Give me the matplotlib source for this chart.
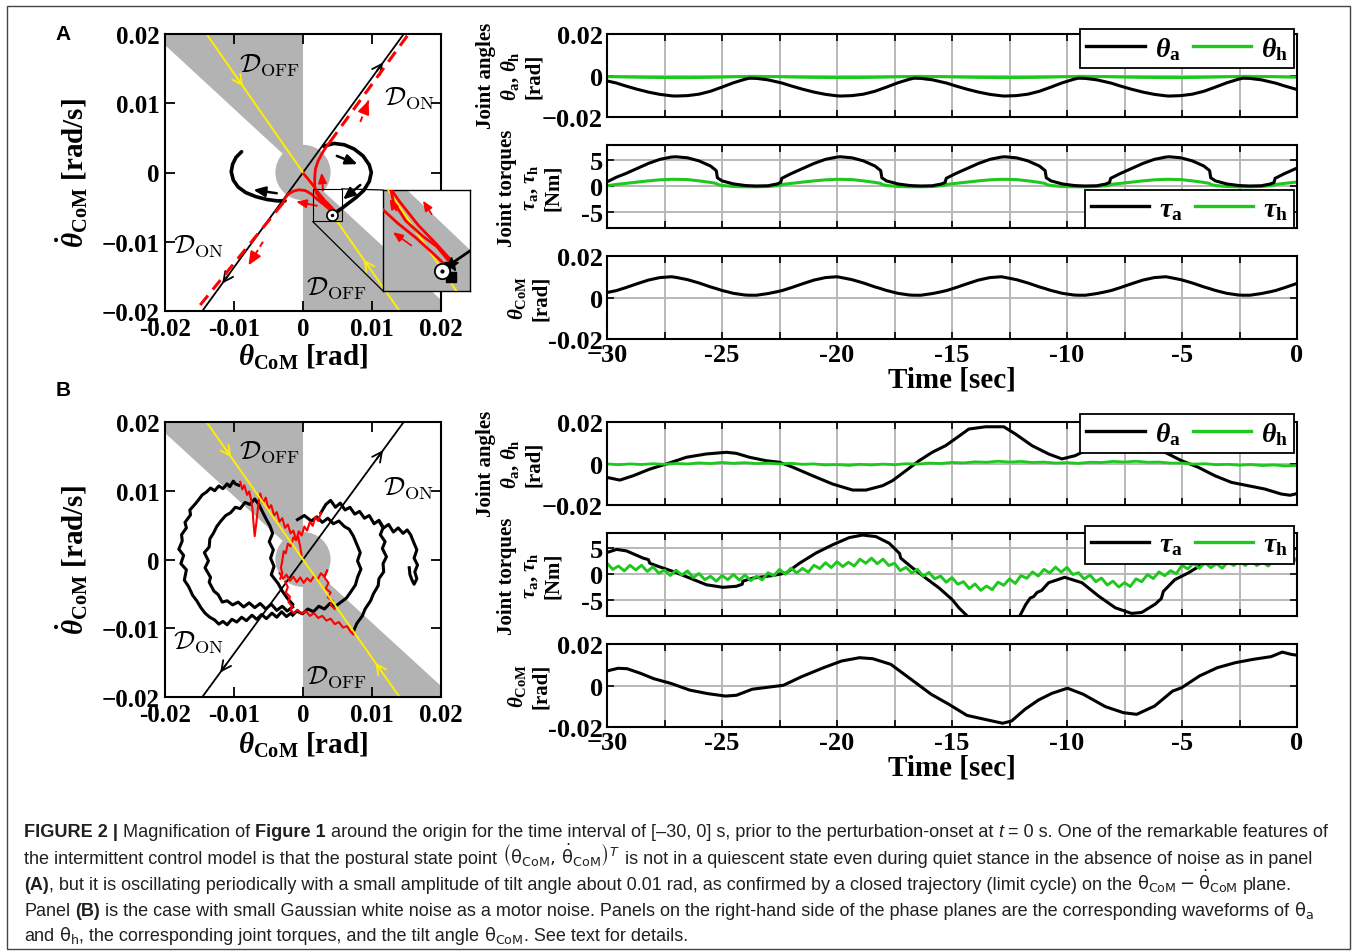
import numpy as np
import matplotlib
matplotlib.use('Agg')
import matplotlib.pyplot as plt
from matplotlib.patches import Polygon, Circle, Rectangle, ConnectionPatch
from matplotlib.lines import Line2D
from matplotlib.transforms import IdentityTransform

# ---------------------------------------------------------------- data
# phase-plane geometry
k_off = 0.92          # slope of D_OFF boundary line (theta_dot = -k_off*theta)
s_stable = 1.43       # stable manifold slope (negative)
s_unstable = 1.37     # unstable manifold slope
r_disk = 0.004        # radius of grey disk at origin

# Panel A: limit cycle arcs (rad, rad/s)
arcR_th = [0.0030, 0.0045, 0.0060, 0.0074, 0.0087, 0.0096, 0.0099, 0.0096, 0.0088, 0.0077, 0.0065, 0.0056, 0.00466]
arcR_thd = [0.0038, 0.0042, 0.0040, 0.0034, 0.0024, 0.0011, 0.0000, -0.0013, -0.0026, -0.0036, -0.0045, -0.0052, -0.00582]
arcL_th = [-0.0089, -0.0097, -0.0102, -0.0104, -0.0101, -0.0094, -0.0083, -0.0068, -0.0052, -0.0037, -0.0026]
arcL_thd = [0.0030, 0.0022, 0.0012, 0.0001, -0.0011, -0.0021, -0.0029, -0.0035, -0.0039, -0.0041, -0.0041]
# red trajectories leaving the start point
red1_th = [0.00460, 0.0040, 0.0033, 0.0025, 0.0019, 0.0017, 0.0017, 0.0018, 0.0022, 0.0029, 0.0035, 0.0039]
red1_thd = [-0.00570, -0.0050, -0.0045, -0.0038, -0.0029, -0.0020, -0.0008, 0.0005, 0.0017, 0.0030, 0.0039, 0.0044]
red2_th = [0.00440, 0.0038, 0.0030, 0.0021, 0.0012, 0.0003, -0.0006, -0.0014, -0.0021, -0.0026, -0.0029]
red2_thd = [-0.00585, -0.0053, -0.0046, -0.0039, -0.0031, -0.0026, -0.0025, -0.0027, -0.0031, -0.0037, -0.0044]
red3_th = [0.00465, 0.0040, 0.0031, 0.0022, 0.0014, 0.0007, 0.0001]
red3_thd = [-0.00560, -0.0049, -0.0040, -0.0029, -0.0018, -0.0009, -0.0002]
redD1_th = [0.0039, 0.0153]
redD1_thd = [0.0044, 0.0200]
redD2_th = [-0.0029, -0.0156]
redD2_thd = [-0.0044, -0.0200]
start_pt = (0.00423, -0.00612)
star_pt = (0.00466, -0.00583)
square_pt = (0.00466, -0.00640)
inset_xlim = (0.0014, 0.0056)
inset_ylim = (-0.00707, -0.00236)
blk_arrows_A = [((0.0049, 0.0024), (0.0079, 0.0012)), ((0.0083, -0.0018), (0.0058, -0.0039)),
                ((-0.0038, -0.0030), (-0.0072, -0.0025))]
red_arrows_A = [((0.0029, -0.0026), (0.0027, 0.0000)), ((0.0020, -0.0048), (-0.0010, -0.0042))]
red_dash_arrows_A = [((0.0083, 0.0073), (0.0095, 0.0104)), ((-0.0058, -0.0100), (-0.0079, -0.0134))]
inset_red_arrows = [((0.00375, -0.00349), (0.00333, -0.00286)), ((0.00277, -0.00495), (0.00188, -0.00433)),
                    ((0.00205, -0.00332), (0.00172, -0.00278))]
# chevrons on manifolds: theta position of arrow, direction
chev_unst_A = [(0.0107, 1), (-0.0108, -1)]
chev_stab_A = [(-0.0096, 1), (0.0097, -1)]
chev_unst_B = [(0.0107, 1), (-0.0111, -1)]
chev_stab_B = [(-0.0113, 1), (0.0114, -1)]
dlabels_A = [(-0.0048, 0.0157, 'OFF'), (0.0155, 0.0109, 'ON'), (-0.0152, -0.0105, 'ON'), (0.0049, -0.0165, 'OFF')]
dlabels_B = [(-0.0048, 0.0158, 'OFF'), (0.0153, 0.0105, 'ON'), (-0.0152, -0.0118, 'ON'), (0.0049, -0.0169, 'OFF')]

# Panel B phase plane (mrad, mrad/s) - noisy trajectories read by hand
bB1_th = [-1.6, -2.4, -3.1, -3.8, -4.5, -5.3, -6.0, -6.7, -7.4, -8.2, -8.9, -9.6, -10.3, -11.0, -11.6, -12.2, -12.8, -13.5,
          -14.2, -14.8, -15.4, -16.0, -16.6, -17.2, -16.9, -17.7, -17.3, -18.0, -17.5, -17.6, -16.9, -17.1, -16.3, -16.4,
          -15.6, -15.2, -14.6, -14.0, -13.4, -12.8, -12.2, -11.6, -11.0, -10.6, -10.1, -9.8, -9.3]
bB1_thd = [-7.7, -8.3, -7.6, -8.4, -7.8, -8.6, -8.0, -8.7, -8.1, -8.9, -8.4, -9.1, -8.7, -9.5, -9.0, -9.4, -8.8, -8.4,
           -7.8, -7.0, -6.0, -5.2, -3.9, -3.0, -1.5, -0.6, 0.6, 1.5, 2.7, 3.6, 4.6, 5.4, 6.5, 7.2, 8.1, 8.6, 9.4, 9.8,
           10.4, 10.0, 10.7, 10.3, 11.0, 10.6, 11.4, 11.0, 10.8]
bB2_th = [-1.5, -2.3, -3.0, -3.8, -4.6, -5.4, -6.2, -7.0, -7.8, -8.6, -9.4, -10.2, -11.0, -11.7, -12.3, -12.9, -13.6,
          -13.4, -14.2, -13.7, -14.3, -13.6, -13.5, -13.0, -12.5, -11.9, -11.2, -10.5, -9.8, -9.1, -8.4, -7.7, -7.0,
          -6.4, -5.9, -5.4, -4.8, -4.4, -4.9, -4.3, -4.7, -4.2, -4.6, -3.6, -3.0, -2.3, -1.5]
bB2_thd = [-6.9, -7.5, -6.8, -7.4, -6.5, -7.2, -6.4, -7.0, -6.3, -6.9, -6.2, -6.6, -6.0, -6.2, -5.1, -4.6, -3.3, -2.6,
           -1.2, -0.2, 1.0, 1.8, 3.0, 3.8, 4.8, 5.6, 6.4, 6.8, 7.6, 7.4, 8.3, 8.0, 8.8, 8.0, 7.0, 6.0, 4.9, 3.8, 2.6,
           1.4, 0.2, -1.0, -2.2, -3.5, -4.6, -5.6, -6.5]
bB3_th = [2.6, 3.3, 4.0, 4.7, 5.4, 6.1, 6.8, 7.5, 8.2, 8.9, 9.6, 10.3, 11.0, 11.7, 12.4, 13.1, 13.8, 14.5, 15.1, 15.6,
          16.0, 16.5, 16.1, 16.6, 16.2, 16.5, 16.1, 15.8, 15.5, 15.4]
bB3_thd = [6.8, 8.0, 8.6, 7.6, 8.2, 7.2, 7.6, 6.6, 7.0, 6.0, 6.4, 5.2, 5.7, 4.6, 5.1, 4.0, 4.6, 3.8, 4.3, 3.6, 2.6, 1.4,
           0.2, -0.8, -1.8, -2.8, -3.6, -3.0, -2.2, -1.2]
bB4_th = [11.0, 11.6, 11.2, 11.9, 11.5, 12.1, 11.6, 11.7, 11.0, 10.9, 10.2, 9.8, 9.0, 8.6, 7.8, 7.3]
bB4_thd = [5.6, 4.6, 3.6, 2.6, 1.6, 0.4, -0.6, -1.8, -2.8, -3.8, -5.0, -6.0, -7.2, -8.2, -9.3, -10.5]
bB5_th = [-0.8, 0.2, 1.2, 2.0, 2.8, 3.6, 4.4, 5.2, 6.0, 6.7, 7.3, 7.8, 8.3, 7.9, 8.4, 7.9, 7.6, 7.0, 6.3, 5.5, 4.7,
          3.9, 3.1, 2.3, 1.5, 0.7, -0.1, -0.9, -1.5]
bB5_thd = [5.8, 6.4, 5.6, 6.2, 5.4, 6.0, 5.2, 5.6, 4.8, 4.4, 3.4, 2.2, 1.0, -0.2, -1.4, -2.6, -3.7, -4.6, -5.6, -6.2,
           -6.8, -6.4, -7.2, -6.8, -7.6, -7.2, -7.9, -7.5, -8.1]
rB1_th = [-9.1, -8.8, -8.5, -8.1, -7.8, -7.5, -7.3, -7.2, -7.0, -6.8, -6.5, -6.2, -5.8, -5.4, -5.0, -4.6, -4.2, -3.8,
          -3.4, -3.0, -2.6, -2.2, -1.8, -1.4, -1.0, -0.7, -0.4, -0.2]
rB1_thd = [11.3, 10.2, 10.8, 9.4, 9.9, 8.6, 7.2, 5.6, 3.4, 5.0, 7.8, 9.6, 8.2, 9.0, 7.4, 7.9, 6.4, 6.9, 5.5, 6.0, 4.6,
           5.1, 3.8, 4.2, 2.9, 3.3, 1.8, 0.6]
rB2_th = [2.6, 2.2, 1.8, 1.4, 1.0, 0.6, 0.2, -0.2, -0.6, -1.0, -1.4, -1.8, -2.2, -2.5, -2.8, -3.0, -3.2, -3.0, -3.3]
rB2_thd = [6.8, 5.6, 6.2, 4.9, 5.5, 4.2, 4.8, 3.5, 4.1, 2.8, 3.2, 1.9, 2.3, 0.9, 1.2, -0.2, -1.2, -2.0, -2.8]
rB3_th = [-3.4, -2.9, -2.4, -1.9, -1.4, -0.9, -0.4, 0.1, 0.6, 1.1, 1.6, 2.1, 2.6, 3.1, 3.5]
rB3_thd = [-2.0, -2.8, -2.2, -3.1, -2.5, -3.3, -2.6, -3.4, -2.7, -3.2, -2.4, -2.9, -2.0, -2.5, -1.6]
rB4_th = [-2.6, -2.2, -2.5, -1.9, -2.1, -1.6, -1.8, -1.3, -0.8, -0.2, 0.4, 1.0, 1.6, 2.2, 2.8, 3.4, 4.0, 4.6, 5.2, 5.8,
          6.4, 6.9, 7.3]
rB4_thd = [-3.2, -4.0, -4.8, -5.4, -6.2, -6.8, -7.4, -7.8, -7.3, -7.9, -7.5, -8.2, -7.8, -8.5, -8.2, -8.9, -8.6, -9.4,
           -9.1, -9.9, -9.7, -10.5, -10.9]
rB5_th = [3.5, 3.1, 3.7, 3.3, 4.0, 3.6, 4.3, 4.0, 4.6]
rB5_thd = [-1.6, -2.6, -3.4, -4.2, -4.8, -5.5, -6.0, -6.6, -7.2]

# Panel A time series (s; mrad, Nm)
tA = [-30.0, -29.6, -29.2, -28.7, -28.2, -27.7, -27.2,
      -27.0, -26.5, -26.0, -25.5, -25.25, -25.2, -25.0, -24.5, -24.0, -23.8, -23.5, -23.0, -22.6, -22.45, -22.4, -22.0, -21.5, -21.0, -20.5, -20.0,
      -19.85, -19.35, -18.85, -18.35, -18.1, -18.05, -17.85, -17.35, -16.85, -16.65, -16.35, -15.85, -15.45, -15.3, -15.25, -14.85, -14.35, -13.85, -13.35, -12.85,
      -12.7, -12.2, -11.7, -11.2, -10.95, -10.9, -10.7, -10.2, -9.7, -9.5, -9.2, -8.7, -8.3, -8.15, -8.1, -7.7, -7.2, -6.7, -6.2, -5.7,
      -5.55, -5.05, -4.55, -4.05, -3.8, -3.75, -3.55, -3.05, -2.55, -2.35, -2.05, -1.55, -1.15, -1.0, -0.95, -0.55, -0.05, 0.0]
theta_a_A = [-2.6, -3.6, -5.0, -6.6, -8.0, -9.1, -9.8,
             -9.9, -9.7, -9.0, -7.6, -6.6, -6.4, -5.6, -3.5, -1.8, -1.3, -1.4, -2.1, -3.1, -3.5, -3.6, -5.0, -6.6, -8.0, -9.1, -9.8,
             -9.9, -9.7, -9.0, -7.6, -6.6, -6.4, -5.6, -3.5, -1.8, -1.3, -1.4, -2.1, -3.1, -3.5, -3.6, -5.0, -6.6, -8.0, -9.1, -9.8,
             -9.9, -9.7, -9.0, -7.6, -6.6, -6.4, -5.6, -3.5, -1.8, -1.3, -1.4, -2.1, -3.1, -3.5, -3.6, -5.0, -6.6, -8.0, -9.1, -9.8,
             -9.9, -9.7, -9.0, -7.6, -6.6, -6.4, -5.6, -3.5, -1.8, -1.3, -1.4, -2.1, -3.1, -3.5, -3.6, -5.0, -6.6, -6.75]
theta_h_A = [-0.55, -0.6, -0.7, -0.8, -0.9, -0.95, -1.0,
             -1.0, -1.0, -0.95, -0.85, -0.8, -0.8, -0.75, -0.6, -0.5, -0.45, -0.45, -0.5, -0.55, -0.6, -0.6, -0.7, -0.8, -0.9, -0.95, -1.0,
             -1.0, -1.0, -0.95, -0.85, -0.8, -0.8, -0.75, -0.6, -0.5, -0.45, -0.45, -0.5, -0.55, -0.6, -0.6, -0.7, -0.8, -0.9, -0.95, -1.0,
             -1.0, -1.0, -0.95, -0.85, -0.8, -0.8, -0.75, -0.6, -0.5, -0.45, -0.45, -0.5, -0.55, -0.6, -0.6, -0.7, -0.8, -0.9, -0.95, -1.0,
             -1.0, -1.0, -0.95, -0.85, -0.8, -0.8, -0.75, -0.6, -0.5, -0.45, -0.45, -0.5, -0.55, -0.6, -0.6, -0.7, -0.8, -0.8]
tau_a_A = [0.8, 1.7, 2.4, 3.4, 4.4, 5.2, 5.65,
           5.7, 5.5, 4.9, 3.9, 3.0, 1.6, 1.0, 0.4, 0.1, 0.05, 0.0, 0.05, 0.4, 0.7, 1.5, 2.4, 3.4, 4.4, 5.2, 5.65,
           5.7, 5.5, 4.9, 3.9, 3.0, 1.6, 1.0, 0.4, 0.1, 0.05, 0.0, 0.05, 0.4, 0.7, 1.5, 2.4, 3.4, 4.4, 5.2, 5.65,
           5.7, 5.5, 4.9, 3.9, 3.0, 1.6, 1.0, 0.4, 0.1, 0.05, 0.0, 0.05, 0.4, 0.7, 1.5, 2.4, 3.4, 4.4, 5.2, 5.65,
           5.7, 5.5, 4.9, 3.9, 3.0, 1.6, 1.0, 0.4, 0.1, 0.05, 0.0, 0.05, 0.4, 0.7, 1.5, 2.4, 3.4, 3.5]
tau_h_A = [0.05, 0.3, 0.5, 0.75, 1.0, 1.2, 1.3,
           1.3, 1.25, 1.0, 0.7, 0.5, 0.3, 0.1, -0.1, -0.15, -0.15, -0.15, -0.1, 0.05, 0.15, 0.3, 0.5, 0.75, 1.0, 1.2, 1.3,
           1.3, 1.25, 1.0, 0.7, 0.5, 0.3, 0.1, -0.1, -0.15, -0.15, -0.15, -0.1, 0.05, 0.15, 0.3, 0.5, 0.75, 1.0, 1.2, 1.3,
           1.3, 1.25, 1.0, 0.7, 0.5, 0.3, 0.1, -0.1, -0.15, -0.15, -0.15, -0.1, 0.05, 0.15, 0.3, 0.5, 0.75, 1.0, 1.2, 1.3,
           1.3, 1.25, 1.0, 0.7, 0.5, 0.3, 0.1, -0.1, -0.15, -0.15, -0.15, -0.1, 0.05, 0.15, 0.3, 0.5, 0.75, 0.78]
theta_com_A = [2.4, 3.3, 4.7, 6.6, 8.4, 9.6, 10.0,
               9.7, 8.6, 7.0, 5.1, 4.3, 4.1, 3.4, 2.0, 1.2, 1.1, 1.1, 1.9, 2.8, 3.2, 3.3, 4.7, 6.6, 8.4, 9.6, 10.0,
               9.7, 8.6, 7.0, 5.1, 4.3, 4.1, 3.4, 2.0, 1.2, 1.1, 1.1, 1.9, 2.8, 3.2, 3.3, 4.7, 6.6, 8.4, 9.6, 10.0,
               9.7, 8.6, 7.0, 5.1, 4.3, 4.1, 3.4, 2.0, 1.2, 1.1, 1.1, 1.9, 2.8, 3.2, 3.3, 4.7, 6.6, 8.4, 9.6, 10.0,
               9.7, 8.6, 7.0, 5.1, 4.3, 4.1, 3.4, 2.0, 1.2, 1.1, 1.1, 1.9, 2.8, 3.2, 3.3, 4.7, 6.6, 6.8]

# Panel B time series
t_theta_a_B = [-30.0, -29.44, -28.86, -28.14, -27.41, -26.55, -25.68, -24.81, -24.38, -23.80, -23.08, -22.50, -21.92,
               -21.06, -20.19, -19.32, -18.74, -18.02, -17.59, -17.01, -16.43, -15.86, -15.28, -14.77, -14.27, -13.54,
               -12.75, -12.24, -11.52, -10.8, -10.22, -9.64, -9.06, -8.2, -7.4, -6.5, -5.74, -5.02, -4.30, -3.57,
               -2.85, -2.13, -1.40, -0.69, -0.3, 0.0]
theta_a_B = [-6.7, -8.0, -5.9, -2.7, -0.2, 3.0, 4.6, 5.4, 4.9, 3.0, 1.35, 0.6, -1.8, -5.9, -9.9, -12.8, -12.8, -10.7,
             -8.3, -3.5, 1.35, 5.4, 8.6, 12.6, 16.6, 17.7, 17.7, 14.2, 8.6, 4.6, 2.2, 3.8, 7.0, 10.0, 11.0, 9.0, 5.4,
             1.35, -1.8, -5.9, -9.1, -10.7, -12.3, -14.7, -15.3, -14.5]
theta_h_B = [-0.2, -0.6, -0.2, -0.5, -0.1, -0.4, 0.0, -0.2, 0.3, 0.0, 0.5, 0.1, 0.4, 0.0, 0.2, -0.2, 0.1, -0.4, -0.2,
             -0.7, -0.5, -0.9, -0.4, -0.7, -0.3, -0.6, -0.1, -0.3, 0.2, 0.0, 0.5, 0.3, 0.8, 0.6, 1.1, 0.7, 1.0, 0.5,
             0.7, 0.2, 0.4, 0.1, 0.6, 0.5, 1.0, 0.7, 1.1, 0.6, 0.7, 0.2, 0.2, -0.3, -0.1, -0.6, -0.4, -0.8, -0.5,
             -1.0, -0.7, -1.2, -0.9]
t_tau_a_B = [-30.0, -29.58, -29.15, -28.43, -28.2, -28.14, -27.78, -27.13, -26.40, -25.68, -24.96, -24.38, -24.12,
             -24.09, -23.66, -22.79, -22.21, -21.63, -20.91, -20.19, -19.47, -18.89, -18.31, -17.73, -17.37, -17.28,
             -17.23, -16.72, -16.14, -15.57, -14.99, -14.70, -14.2, -13.5, -12.8, -12.3, -12.03, -11.8, -11.6,
             -11.45, -11.3, -11.1, -10.8, -10.1, -9.35, -8.63, -7.9, -7.19, -6.75, -6.17, -5.9, -5.81, -5.31, -4.73,
             -4.15, -3.6, -2.5, -1.5, -0.5, 0.0]
tau_a_B = [4.2, 4.8, 4.5, 3.1, 2.8, 2.1, 1.5, 0.5, -0.8, -2.1, -2.6, -2.4, -2.0, -1.4, -0.8, -0.3, 0.2, 2.1, 4.1, 5.7,
           7.1, 7.6, 7.3, 6.0, 4.4, 4.0, 3.1, 1.2, -0.8, -2.7, -5.0, -6.6, -8.8, -10.5, -11.0, -9.8, -8.0, -6.0, -4.7,
           -4.4, -3.6, -3.2, -1.7, -0.65, -1.7, -4.3, -6.6, -7.7, -7.5, -5.9, -4.8, -3.4, -1.1, 0.2, 1.8, 2.8, 4.0,
           4.6, 4.8, 5.0]
tau_h_B = [2.1, 0.9, 1.55, 0.6, 1.7, 0.8, 1.7, 0.5, 1.4, 0.15, 0.75, -0.3, 0.75, -0.2, 0.6, -0.7, 0.1, -1.1, -0.45,
           -1.4, -0.3, -1.1, -0.1, -1.2, -0.2, -1.3, -0.45, -1.15, 0.25, -0.35, 0.9, -0.05, 1.15, 0.2, 1.1, 0.35, 1.7,
           1.05, 2.2, 1.25, 2.4, 1.45, 2.3, 1.55, 2.9, 2.1, 3.1, 2.0, 2.9, 1.65, 2.1, 0.65, 1.3, 0.2, 0.9, -0.45, 0.3,
           -0.95, -0.4, -1.6, -0.7, -2.0, -1.5, -2.85, -1.95, -3.2, -2.35, -3.05, -1.6, -2.2, -0.95, -1.85, -0.3,
           -0.85, 0.4, -0.4, 0.9, 0.2, 1.35, 0.35, 1.3, -0.1, 0.25, -1.0, -0.2, -1.5, -0.8, -2.15, -1.4, -2.55, -1.7,
           -2.45, -0.95, -1.5, -0.1, -0.9, 0.4, -0.35, 0.65, 0.05, 1.7, 1.0, 2.1, 1.1, 2.2, 1.25, 2.0, 1.15, 2.4,
           1.65, 2.7, 1.65, 2.7, 1.65, 2.4, 1.55, 2.8, 2.05, 3.1, 2.05, 3.1]
t_theta_com_B = [-30.0, -29.52, -29.13, -28.55, -27.97, -27.19, -26.41, -25.63, -24.85, -24.37, -23.69, -22.91, -22.33,
                 -21.55, -20.58, -19.80, -19.02, -18.44, -17.66, -16.88, -15.91, -15.13, -14.35, -13.58, -12.80,
                 -12.41, -11.83, -11.24, -10.66, -9.98, -9.30, -8.33, -7.55, -6.97, -6.19, -5.41, -5.02, -4.24,
                 -3.46, -2.68, -1.91, -1.13, -0.64, -0.25, 0.0]
theta_com_B = [7.0, 8.3, 8.1, 5.9, 3.3, 0.9, -2.2, -3.9, -5.1, -4.7, -1.8, -0.7, 0.1, 4.2, 8.6, 11.8, 13.4, 12.9, 10.2,
               3.8, -4.2, -9.1, -14.4, -16.3, -18.2, -17.1, -11.5, -7.0, -3.8, -1.3, -4.2, -10.2, -13.1, -13.9, -9.9,
               -2.7, -1.1, 4.6, 8.6, 11.0, 12.6, 13.9, 16.1, 15.0, 14.6]

# tick labels
phase_xticklabels = ['-0.02', '-0.01', '0', '0.01', '0.02']
phase_yticklabels = ['\u22120.02', '\u22120.01', '0', '0.01', '0.02']
time_ticklabels = ['\u221230', '', '-25', '', '-20', '', '-15', '', '-10', '', '-5', '', '0']

# ---------------------------------------------------------------- style
W, H = 1357, 953
plt.rcParams.update({
    'font.family': ['Liberation Serif', 'DejaVu Serif'],
    'font.weight': 'normal',
    'mathtext.fontset': 'custom',
    'mathtext.rm': 'Liberation Serif:bold',
    'mathtext.it': 'Liberation Serif:italic:bold',
    'mathtext.bf': 'Liberation Serif:bold',
    'axes.unicode_minus': False,
})
GREEN = '#1ec81e'
GRAY = '#b3b3b3'
GRIDC = '#b8b8b8'
RED = '#ff0000'
YEL = '#ffee00'
BOLD = 'bold'

fig = plt.figure(figsize=(W / 100, H / 100), dpi=100)


def add_ax(l, t, r, b):
    return fig.add_axes([l / W, 1 - b / H, (r - l) / W, (b - t) / H])


def ftext(x, y, s, **kw):
    kw.setdefault('fontweight', BOLD)
    return fig.text(x / W, 1 - y / H, s, **kw)


mrad = 1e-3


def chevrons(ax, items, slope, color):
    for th, d in items:
        dth = 0.0009 * d
        ax.annotate('', xy=(th + dth, slope * (th + dth)), xytext=(th, slope * th),
                    arrowprops=dict(arrowstyle='->,head_length=0.7,head_width=0.35', color=color, lw=1.3,
                                    shrinkA=0, shrinkB=0), zorder=5)


def phase_base(ax, dlabels, chev_u, chev_s):
    lim = 0.02
    ax.add_patch(Polygon([(-lim, lim), (0, lim), (0, 0), (-lim, k_off * lim)], closed=True, fc=GRAY, ec='none', zorder=0))
    ax.add_patch(Polygon([(0, 0), (lim, -k_off * lim), (lim, -lim), (0, -lim)], closed=True, fc=GRAY, ec='none', zorder=0))
    ax.add_patch(Circle((0, 0), r_disk, fc=GRAY, ec='none', zorder=0))
    ax.plot([-lim / s_stable, lim / s_stable], [lim, -lim], color=YEL, lw=1.4, zorder=4)
    ax.plot([-lim / s_unstable, lim / s_unstable], [-lim, lim], color='k', lw=1.3, zorder=3)
    chevrons(ax, chev_u, s_unstable, 'k')
    chevrons(ax, chev_s, -s_stable, YEL)
    for x, y, sub in dlabels:
        ax.text(x, y, r'$\mathcal{D}_{\mathrm{%s}}$' % sub, math_fontfamily='cm', fontsize=19,
                ha='center', va='center', zorder=6)
    ax.set_xlim(-lim, lim)
    ax.set_ylim(-lim, lim)
    ticks = [-0.02, -0.01, 0, 0.01, 0.02]
    ax.set_xticks(ticks)
    ax.set_xticklabels(phase_xticklabels, fontweight=BOLD)
    ax.set_yticks(ticks)
    ax.set_yticklabels(phase_yticklabels, fontweight=BOLD)
    ax.tick_params(direction='in', top=True, right=True, length=7, width=1.3, labelsize=18, pad=4)
    for s in ax.spines.values():
        s.set_linewidth(1.5)
        s.set_zorder(10)


# ---------------------------------------------------------------- panel A phase plane
axA = add_ax(165, 35, 441, 312)
phase_base(axA, dlabels_A, chev_unst_A, chev_stab_A)
axA.plot(arcR_th, arcR_thd, color='k', lw=2.6, zorder=5, solid_capstyle='round')
axA.plot(arcL_th, arcL_thd, color='k', lw=2.6, zorder=5, solid_capstyle='round')
for xs, ys in [(red1_th, red1_thd), (red2_th, red2_thd), (red3_th, red3_thd)]:
    axA.plot(xs, ys, color=RED, lw=2.0, zorder=5)
for xs, ys in [(redD1_th, redD1_thd), (redD2_th, redD2_thd)]:
    axA.plot(xs, ys, color=RED, lw=2.2, ls=(0, (4, 2.5)), zorder=5)
for (x0, y0), (x1, y1) in blk_arrows_A:
    axA.annotate('', xy=(x1, y1), xytext=(x0, y0),
                 arrowprops=dict(arrowstyle='-|>,head_length=0.7,head_width=0.3', color='k', lw=1.8,
                                 shrinkA=0, shrinkB=0), zorder=6)
for (x0, y0), (x1, y1) in red_arrows_A:
    axA.annotate('', xy=(x1, y1), xytext=(x0, y0),
                 arrowprops=dict(arrowstyle='-|>,head_length=0.6,head_width=0.25', color=RED, lw=1.4,
                                 shrinkA=0, shrinkB=0), zorder=6)
for (x0, y0), (x1, y1) in red_dash_arrows_A:
    axA.plot([x0, x1], [y0, y1], color=RED, lw=1.4, ls=(0, (3, 2)), zorder=6)
    axA.annotate('', xy=(x1, y1), xytext=(x0 + 0.8 * (x1 - x0), y0 + 0.8 * (y1 - y0)),
                 arrowprops=dict(arrowstyle='-|>,head_length=0.8,head_width=0.35', color=RED, lw=1.4,
                                 shrinkA=0, shrinkB=0), zorder=6)
axA.plot(*start_pt, 'o', ms=8, mfc='white', mec='k', mew=1.2, zorder=7)
axA.plot(*start_pt, '.', ms=3, color='k', zorder=8)
axA.add_patch(Rectangle((inset_xlim[0], inset_ylim[0]), inset_xlim[1] - inset_xlim[0], inset_ylim[1] - inset_ylim[0],
                        fill=False, ec='k', lw=0.8, zorder=7))

# inset
axI = add_ax(383, 191, 470, 292)
lim = 0.02
axI.add_patch(Polygon([(0, 0), (lim, -k_off * lim), (lim, -lim), (0, -lim)], closed=True, fc=GRAY, ec='none', zorder=0))
axI.plot([-lim / s_stable, lim / s_stable], [lim, -lim], color=YEL, lw=1.4, zorder=4)
axI.plot(arcR_th, arcR_thd, color='k', lw=2.0, zorder=5)
for xs, ys in [(red1_th, red1_thd), (red2_th, red2_thd), (red3_th, red3_thd)]:
    axI.plot(xs, ys, color=RED, lw=2.0, zorder=5)
for (x0, y0), (x1, y1) in inset_red_arrows:
    axI.annotate('', xy=(x1, y1), xytext=(x0, y0),
                 arrowprops=dict(arrowstyle='-|>,head_length=0.6,head_width=0.25', color=RED, lw=1.2,
                                 shrinkA=0, shrinkB=0), zorder=6)
axI.plot(*star_pt, '*', ms=10, color='k', zorder=7)
axI.plot(*square_pt, 's', ms=7, color='k', zorder=7)
axI.plot(*start_pt, 'o', ms=11, mfc='white', mec='k', mew=1.3, zorder=8)
axI.plot(*start_pt, '.', ms=4, color='k', zorder=9)
axI.set_xlim(*inset_xlim)
axI.set_ylim(*inset_ylim)
axI.set_xticks([])
axI.set_yticks([])
for s in axI.spines.values():
    s.set_linewidth(1.0)
for xyA, xyB in [((inset_xlim[1], inset_ylim[1]), (inset_xlim[0], inset_ylim[1])),
                 ((inset_xlim[0], inset_ylim[0]), (inset_xlim[0], inset_ylim[0]))]:
    cp = ConnectionPatch(xyA=xyA, coordsA=axA.transData, xyB=xyB, coordsB=axI.transData, lw=0.9, color='k', zorder=9)
    fig.add_artist(cp)

# ---------------------------------------------------------------- panel B phase plane
axB = add_ax(165, 423, 441, 698)
phase_base(axB, dlabels_B, chev_unst_B, chev_stab_B)
for xs, ys in [(bB1_th, bB1_thd), (bB2_th, bB2_thd), (bB3_th, bB3_thd), (bB4_th, bB4_thd), (bB5_th, bB5_thd)]:
    axB.plot(np.array(xs) * mrad, np.array(ys) * mrad, color='k', lw=2.2, zorder=2.5)
for xs, ys in [(rB1_th, rB1_thd), (rB2_th, rB2_thd), (rB3_th, rB3_thd), (rB4_th, rB4_thd), (rB5_th, rB5_thd)]:
    axB.plot(np.array(xs) * mrad, np.array(ys) * mrad, color=RED, lw=1.5, zorder=3.5)

# phase labels
for yc, yl in [(357, 173), (745, 560)]:
    ftext(303, yc, r'$\theta_{\mathrm{CoM}}$ [rad]', fontsize=21, ha='center', va='center')
    ftext(72, yl, r'$\dot{\theta}_{\mathrm{CoM}}$ [rad/s]', fontsize=21, ha='center', va='center', rotation=90)
ftext(63, 35, 'A', fontsize=15, family='Liberation Sans', ha='center', va='center')
ftext(63, 390, 'B', fontsize=15, family='Liberation Sans', ha='center', va='center')


# ---------------------------------------------------------------- time series
def ts_axes(ax, ylim, yticks, ylabels, xlabels=False):
    ax.set_xlim(-30, 0)
    ax.set_ylim(*ylim)
    ax.set_xticks(np.arange(-30, 0.01, 2.5))
    ax.set_xticklabels(time_ticklabels if xlabels else [], fontweight=BOLD)
    ax.set_yticks(yticks)
    ax.set_yticklabels(ylabels, fontweight=BOLD)
    ax.grid(True, color=GRIDC, lw=1.4)
    ax.set_axisbelow(True)
    ax.tick_params(direction='in', top=True, right=True, length=5, width=1.2, labelsize=19, pad=3)
    for s in ax.spines.values():
        s.set_linewidth(1.5)
        s.set_zorder(10)


def legend(ax, labels, anchor_px, loc):
    hs = [Line2D([], [], color='k', lw=2.4), Line2D([], [], color=GREEN, lw=2.4)]
    lg = ax.legend(hs, labels, ncol=2, loc=loc, bbox_to_anchor=(anchor_px[0] / W, 1 - anchor_px[1] / H),
                   bbox_transform=fig.transFigure, frameon=True, fancybox=False, edgecolor='k', framealpha=1,
                   fontsize=20, handlelength=2.1, columnspacing=0.45, handletextpad=0.35, borderpad=0.22,
                   borderaxespad=0)
    lg.get_frame().set_linewidth(1.3)
    lg.set_zorder(20)


tl_ang = r'$\theta_{\mathrm{a}}$', r'$\theta_{\mathrm{h}}$'
tl_tau = r'$\tau_{\mathrm{a}}$', r'$\tau_{\mathrm{h}}$'

for rowtop, data in [(35, 'A'), (423, 'B')]:
    off = rowtop - 35
    a1 = add_ax(607, 35 + off, 1297, 118 + off)
    a2 = add_ax(607, 146 + off, 1297, 229 + off)
    a3 = add_ax(607, 257 + off, 1297, 340 + off)
    ts_axes(a1, (-0.02, 0.02), [-0.02, 0, 0.02], ['\u22120.02', '0', '0.02'])
    ts_axes(a2, (-8.2, 8.0), [-5, 0, 5], ['-5', '0', '5'])
    ts_axes(a3, (-0.02, 0.02), [-0.02, 0, 0.02], ['-0.02', '0', '0.02'], xlabels=True)
    if data == 'A':
        a1.plot(tA, np.array(theta_h_A) * mrad, color=GREEN, lw=2.2)
        a1.plot(tA, np.array(theta_a_A) * mrad, color='k', lw=2.2)
        a2.plot(tA, tau_h_A, color=GREEN, lw=2.2)
        a2.plot(tA, tau_a_A, color='k', lw=2.2)
        a3.plot(tA, np.array(theta_com_A) * mrad, color='k', lw=2.2)
        legend(a1, tl_ang, (1294, 30), 'upper right')
        legend(a2, tl_tau, (1294, 229), 'lower right')
    else:
        a1.plot(t_theta_a_B, np.array(theta_a_B) * mrad, color='k', lw=2.2)
        a1.plot(np.linspace(-30, 0, len(theta_h_B)), np.array(theta_h_B) * mrad, color=GREEN, lw=2.0)
        a2.plot(t_tau_a_B, tau_a_B, color='k', lw=2.2)
        a2.plot(np.linspace(-30, 0, len(tau_h_B)), tau_h_B, color=GREEN, lw=2.1)
        a3.plot(t_theta_com_B, np.array(theta_com_B) * mrad, color='k', lw=2.2)
        legend(a1, tl_ang, (1294, 415), 'upper right')
        legend(a2, tl_tau, (1294, 527), 'upper right')
    ftext(510, 76 + off, 'Joint angles\n' + r'$\theta_{\mathrm{a}}$, $\theta_{\mathrm{h}}$' + '\n[rad]',
          fontsize=15, rotation=90, ha='center', va='center', multialignment='center', linespacing=1.2)
    ftext(530, 188 + off, 'Joint torques\n' + r'$\tau_{\mathrm{a}}$, $\tau_{\mathrm{h}}$' + '\n[Nm]',
          fontsize=15, rotation=90, ha='center', va='center', multialignment='center', linespacing=1.2)
    ftext(528, 298 + off, r'$\theta_{\mathrm{CoM}}$' + '\n[rad]',
          fontsize=15, rotation=90, ha='center', va='center', multialignment='center', linespacing=1.2)
    ftext(952, 380 + off, 'Time [sec]', fontsize=21, ha='center', va='center')

# ---------------------------------------------------------------- outer frame
fig.add_artist(Rectangle((7 / W, 1 - 950 / H), 1343 / W, 943 / H, transform=fig.transFigure,
                         fill=False, ec='#444444', lw=1.0))

# ---------------------------------------------------------------- caption
caption = [
    ([('FIGURE 2 |', 'b', False), ('Magnification of', 'n', True), ('Figure 1', 'b', True),
      ('around the origin for the time interval of [\u201330, 0] s, prior to the perturbation-onset at', 'n', True),
      ('t', 'i', True), ('= 0 s. One of the remarkable features of', 'n', True)], 837, 1335),
    ([('the intermittent control model is that the postural state point', 'n', False),
      (r'$\left(\mathrm{\theta_{CoM}},\, \dot{\mathrm{\theta}}_{\mathrm{CoM}}\right)^{T}$', 'm', True),
      ('is not in a quiescent state even during quiet stance in the absence of noise as in panel', 'n', True)], 864, 1318),
    ([('(A)', 'b', False),
      (', but it is oscillating periodically with a small amplitude of tilt angle about 0.01 rad, as confirmed by a closed trajectory (limit cycle) on the', 'n', False),
      (r'$\mathrm{\theta_{CoM}} - \dot{\mathrm{\theta}}_{\mathrm{CoM}}$', 'm', True), ('plane.', 'n', True)], 890, 1297),
    ([('Panel', 'n', False), ('(B)', 'b', True),
      ('is the case with small Gaussian white noise as a motor noise. Panels on the right-hand side of the phase planes are the corresponding waveforms of', 'n', True),
      (r'$\mathrm{\theta_{a}}$', 'm', True)], 916, 1314),
    ([('and', 'n', False), (r'$\mathrm{\theta_{h}}$', 'm', True),
      (', the corresponding joint torques, and the tilt angle', 'n', False), (r'$\mathrm{\theta_{CoM}}$', 'm', True),
      ('. See text for details.', 'n', False)], 941, None),
]

renderer = fig.canvas.get_renderer()


def mk(s, kind, fs):
    kw = dict(fontsize=fs, family=['Liberation Sans', 'DejaVu Sans'], color='#231f20', va='baseline', ha='left',
              transform=IdentityTransform())
    kw['fontweight'] = 'bold' if kind == 'b' else 'normal'
    if kind == 'i':
        kw['fontstyle'] = 'italic'
    if kind == 'm':
        kw['math_fontfamily'] = 'dejavusans'
    return fig.text(0, 0, s, **kw)


def wid(t):
    return t.get_window_extent(renderer).width


fs0 = 12.0
sp = mk('a a', 'n', fs0)
sp2 = mk('aa', 'n', fs0)
space_w0 = wid(sp) - wid(sp2)
sp.remove()
sp2.remove()
scales = []
for segs, ybase, target in caption:
    arts = [mk(s, k, fs0) for s, k, _ in segs]
    total = sum(wid(a) for a in arts) + space_w0 * sum(1 for _, _, b in segs if b)
    if target is not None:
        sc = (target - 24) / total
        scales.append(sc)
    else:
        sc = float(np.mean(scales))
    fs = fs0 * sc
    x = 24.0
    for a, (s, k, b) in zip(arts, segs):
        a.set_fontsize(fs)
        if b:
            x += space_w0 * sc
        a.set_position((x, H - ybase))
        x += wid(a)

fig.savefig('out.png', dpi=100)
